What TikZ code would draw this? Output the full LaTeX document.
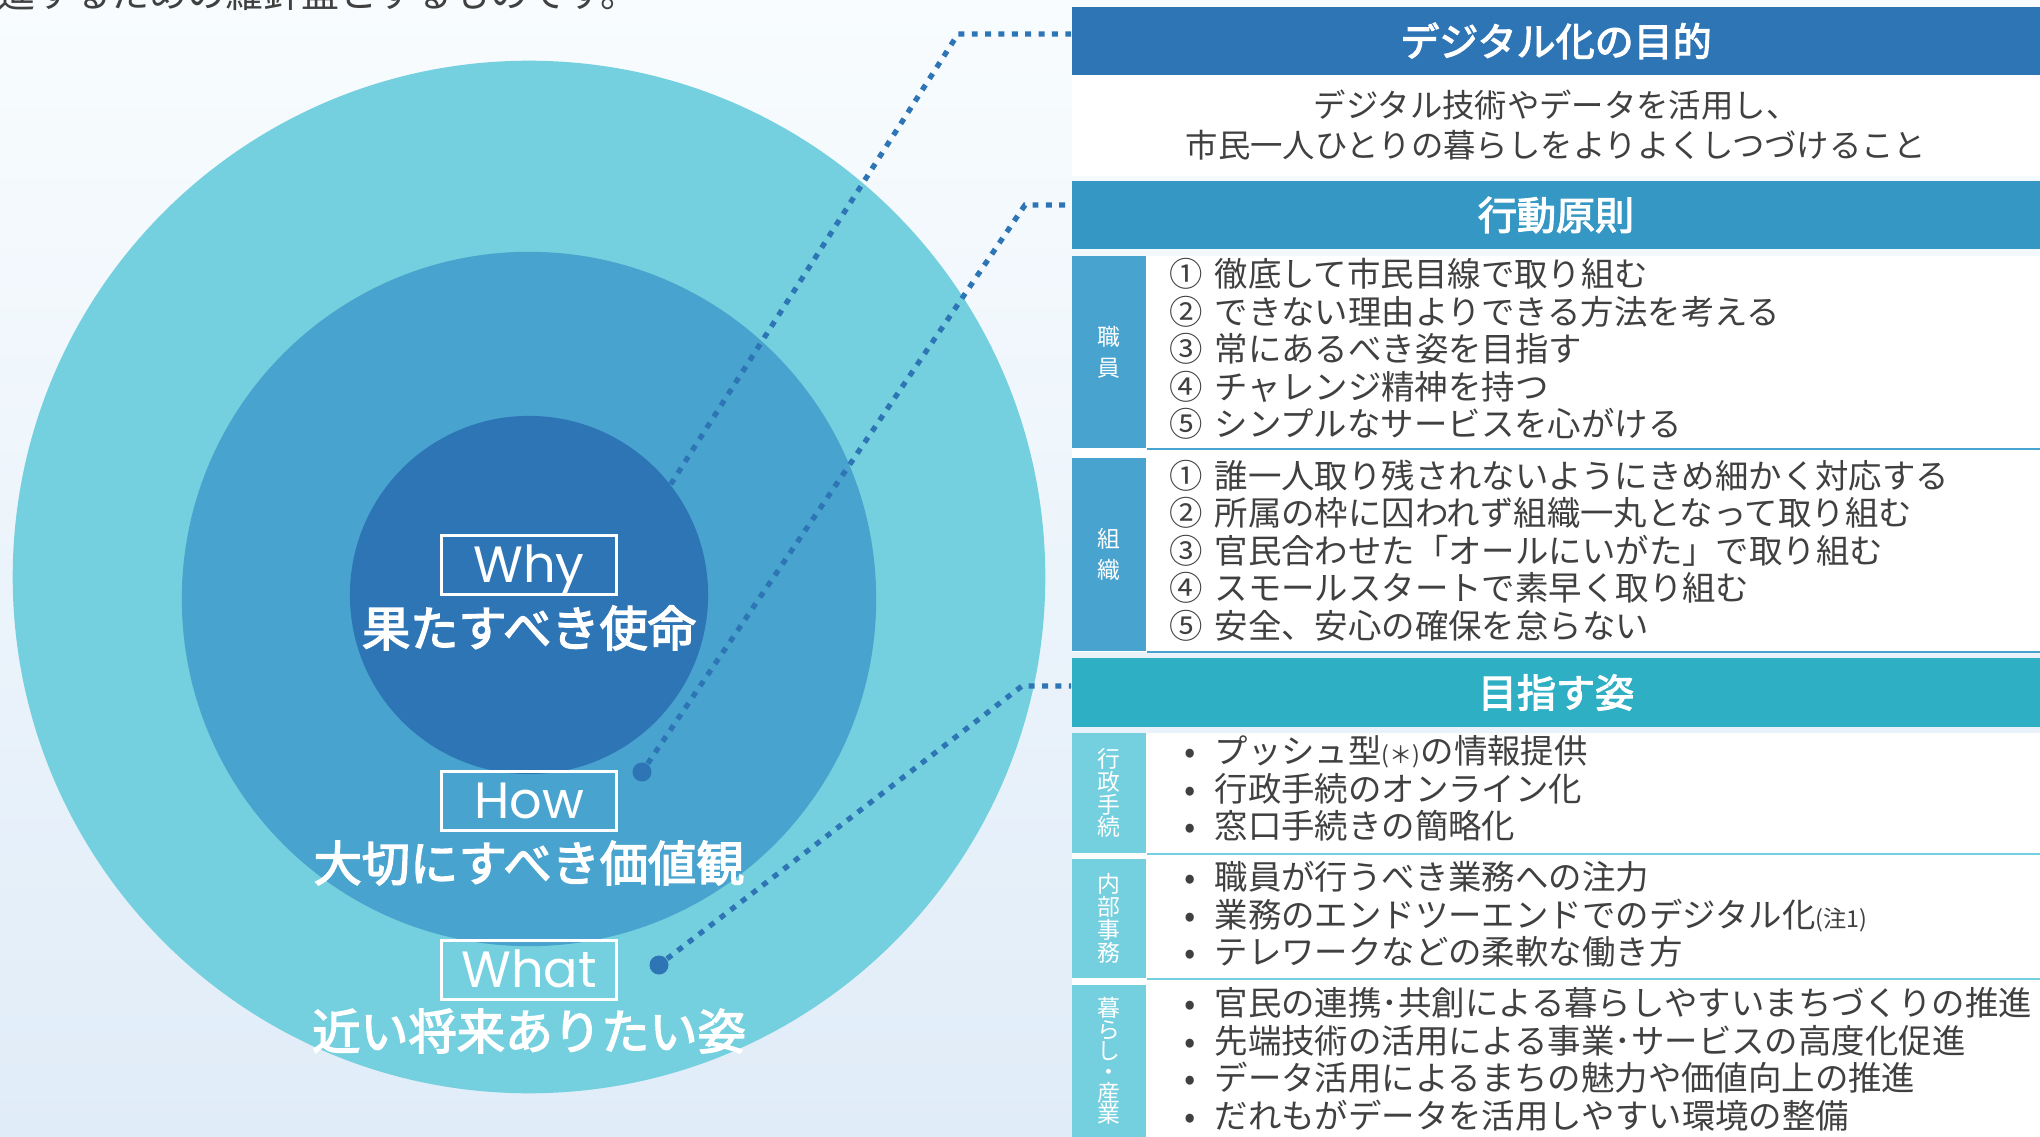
\documentclass[tikz,border=0pt]{standalone}
\usepackage{fontspec}
\usepackage{xcolor}
\usetikzlibrary{positioning}
\setmainfont{Noto Sans CJK JP}
\newfontfamily\tagfont{Poppins}
\newfontfamily\heavyfont{Noto Sans CJK JP}[FakeBold=3]

\definecolor{cDeep}{HTML}{2E75B6}
\definecolor{cMid}{HTML}{48A3CE}
\definecolor{cLight}{HTML}{74D0DE}
\definecolor{cHead}{HTML}{3597C4}
\definecolor{cTeal}{HTML}{2EAFC4}
\definecolor{cText}{HTML}{404040}
\definecolor{bgTop}{HTML}{F8FCFE}
\definecolor{bgBot}{HTML}{E0ECF8}

\newcommand{\itemmark}[1]{\makebox[4.5mm][l]{#1}}
\newcommand{\bulmark}{\makebox[3mm][l]{•}}
\newcommand{\notesize}{\fontsize{6.6}{6.6}\selectfont}

\begin{document}
\begin{tikzpicture}[x=0.01cm, y=-0.01cm,
    ring/.style={circle, inner sep=0pt},
    tagbox/.style={draw=white, line width=0.85pt, minimum width=17.5mm, minimum height=5.8mm,
        inner sep=0pt, text=white, text height=10.2pt, text depth=0pt,
        font=\tagfont\fontsize{14.5}{14.5}\selectfont},
    ringlabel/.style={inner sep=0pt, text=white, font=\heavyfont\fontsize{13.7}{13.7}\selectfont},
    dotmark/.style={circle, fill=cDeep, minimum size=1.9mm, inner sep=0pt},
    leader/.style={cDeep, line width=1.5pt, dash pattern=on 1.7pt off 2.1pt},
    headbar/.style={minimum width=96.8mm, minimum height=6.8mm, inner sep=0pt, text=white,
        font=\heavyfont\fontsize{11.1}{11.1}\selectfont},
    sidebar/.style={minimum width=7.4mm, inner sep=0pt, text=white, align=center,
        font=\fontsize{6.5}{6.5}\selectfont},
    itemlist/.style={anchor=west, inner sep=0pt, align=left, text=cText,
        font=\fontsize{9.5}{10.67}\selectfont},
    sepline/.style={line width=0.7pt}]

    % Background
    \shade[top color=bgTop, bottom color=bgBot] (0,0) rectangle (2040,1137);
    \useasboundingbox (0,0) rectangle (2040,1137);

    % Intro line, cut by the page edge
    \node[anchor=base west, inner sep=0pt, text=cText, font=\fontsize{10.8}{10.8}\selectfont]
        (intro) at (-3,8) {進するための羅針盤とするものです。};

    % Rings
    \node[ring, fill=cLight, minimum size=103.2mm] (whatring) at (529,577) {};
    \node[ring, fill=cMid, minimum size=69.4mm] (howring) at (529,599) {};
    \node[ring, fill=cDeep, minimum size=35.8mm] (whyring) at (529,595) {};

    % Tags and ring labels
    \node[tagbox] (whytag) at (529,565) {Why};
    \node[ringlabel] (mission) at (529,628) {果たすべき使命};
    \node[tagbox] (howtag) at (529,801) {How};
    \node[ringlabel] (values) at (529,863) {大切にすべき価値観};
    \node[tagbox] (whattag) at (529,970) {What};
    \node[ringlabel] (future) at (529,1031) {近い将来ありたい姿};

    % Dots
    \node[dotmark] (howdot) at (642,772) {};
    \node[dotmark] (whatdot) at (659,965) {};

    % Purpose
    \node[headbar, fill=cDeep] (purpose) at (1556,41) {デジタル化の目的};
    \node[fill=white, minimum width=96.8mm, minimum height=10.1mm, inner sep=0pt, align=center,
        text=cText, font=\fontsize{9.2}{11.4}\selectfont] (aim) at (1556,125.5)
        {デジタル技術やデータを活用し、\\市民一人ひとりの暮らしをよりよくしつづけること};

    % Principles
    \node[headbar, fill=cHead] (principle) at (1556,215) {行動原則};
    \fill[white] (1072,256) rectangle (2040,652);
    \coordinate (rightedge) at (2040,0);
    \node[sidebar, fill=cMid, minimum height=19.2mm, font=\fontsize{6.5}{8.8}\selectfont]
        (staff) at (1109,352) {職\\員};
    \node[sidebar, fill=cMid, minimum height=19.3mm, font=\fontsize{6.5}{8.8}\selectfont]
        (org) at (1109,554.5) {組\\織};
    \draw[sepline, cMid] (staff.south east) -- (staff.south east -| rightedge);
    \draw[sepline, cMid] (org.south east) -- (org.south east -| rightedge);
    \node[itemlist] (staffitems) at (1169,349) {%
        \itemmark{①}徹底して市民目線で取り組む\\
        \itemmark{②}できない理由よりできる方法を考える\\
        \itemmark{③}常にあるべき姿を目指す\\
        \itemmark{④}チャレンジ精神を持つ\\
        \itemmark{⑤}シンプルなサービスを心がける};
    \node[itemlist] (orgitems) at (1169,550.5) {%
        \itemmark{①}誰一人取り残されないようにきめ細かく対応する\\
        \itemmark{②}所属の枠に囚われず組織一丸となって取り組む\\
        \itemmark{③}官民合わせた「オールにいがた」で取り組む\\
        \itemmark{④}スモールスタートで素早く取り組む\\
        \itemmark{⑤}安全、安心の確保を怠らない};

    % Vision
    \node[headbar, fill=cTeal, minimum height=6.9mm] (vision) at (1556,692.5) {目指す姿};
    \fill[white] (1072,733) rectangle (2040,1137);
    \node[sidebar, fill=cLight, minimum height=12mm] (admin) at (1109,793) {行\\政\\手\\続};
    \node[sidebar, fill=cLight, minimum height=11.9mm] (internal) at (1109,918.5) {内\\部\\事\\務};
    \node[sidebar, fill=cLight, minimum height=15.2mm, font=\fontsize{6.5}{6}\selectfont]
        (life) at (1109,1061) {暮\\ら\\し\\・\\産\\業};
    \draw[sepline, cLight] (admin.south east) -- (admin.south east -| rightedge);
    \draw[sepline, cLight] (internal.south east) -- (internal.south east -| rightedge);
    \node[itemlist] (adminitems) at (1184,788.5) {%
        \bulmark プッシュ型{\notesize (＊)}の情報提供\\
        \bulmark 行政手続のオンライン化\\
        \bulmark 窓口手続きの簡略化};
    \node[itemlist] (internalitems) at (1184,914.5) {%
        \bulmark 職員が行うべき業務への注力\\
        \bulmark 業務のエンドツーエンドでのデジタル化{\notesize (注1)}\\
        \bulmark テレワークなどの柔軟な働き方};
    \node[itemlist] (lifeitems) at (1184,1059.5) {%
        \bulmark 官民の連携･共創による暮らしやすいまちづくりの推進\\
        \bulmark 先端技術の活用による事業･サービスの高度化促進\\
        \bulmark データ活用によるまちの魅力や価値向上の推進\\
        \bulmark だれもがデータを活用しやすい環境の整備};

    % Leaders from the rings to the panel
    \coordinate (whybend) at (958,34);
    \coordinate (howbend) at (1025,205);
    \coordinate (whatbend) at (1022,686);
    \draw[leader] (whyring.38) -- (whybend) -- (purpose.west |- whybend);
    \draw[leader] (howdot) -- (howbend) -- (principle.west |- howbend);
    \draw[leader] (whatdot) -- (whatbend) -- (vision.west |- whatbend);
\end{tikzpicture}
\end{document}
